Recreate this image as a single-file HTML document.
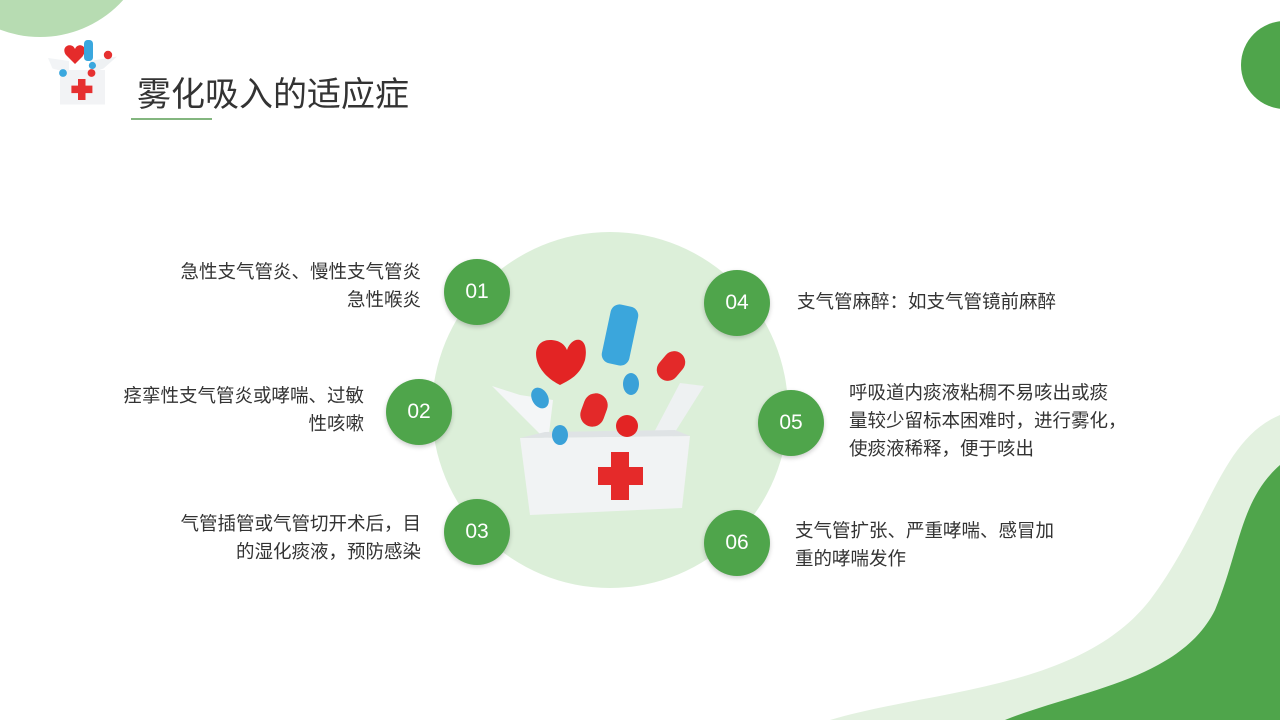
<!DOCTYPE html>
<html><head><meta charset="utf-8"><style>
body{margin:0;width:1280px;height:720px;position:relative;overflow:hidden;background:#fff;font-family:"Liberation Sans","Noto Sans CJK SC",sans-serif;color:#333}
.a{position:absolute}
.n{position:absolute;width:66px;height:66px;border-radius:50%;background:#4fa54b;color:#fff;font-size:21px;line-height:66px;text-align:center;box-shadow:0 2px 5px rgba(0,0,0,.2)}
.t{position:absolute;font-size:18.5px;line-height:28px;white-space:nowrap}
.r{text-align:right}
</style></head><body>
<svg class="a" style="left:0;top:0" width="1280" height="720">
<circle cx="40" cy="-75" r="112" fill="#b7dcb2"/>
<circle cx="1285" cy="65" r="44" fill="#4fa54b"/>
<path d="M830 720 C930 690 1080 690 1150 600 C1210 520 1220 440 1280 415 L1280 720Z" fill="#e3f1e0"/>
<path d="M1005 720 C1080 690 1180 680 1215 610 C1240 550 1240 500 1280 465 L1280 720Z" fill="#4fa54b"/>
<circle cx="610" cy="410" r="178" fill="#dcefd9"/>
<line x1="131" y1="119" x2="212" y2="119" stroke="#5a9e55" stroke-width="1.5"/>
<g transform="translate(48,40) scale(0.3)">
<polygon points="15,95 70,110 70,70 0,60" fill="#f2f4f6"/>
<polygon points="185,95 140,110 140,70 230,55" fill="#eef1f3"/>
<rect x="40" y="100" width="150" height="115" fill="#f2f3f5"/>
<rect x="100" y="130" width="25" height="70" fill="#e63030"/><rect x="78" y="152" width="70" height="25" fill="#e63030"/>
<path d="M60 50 C40 20 80 5 90 30 C100 5 140 20 115 55 L90 80Z" fill="#e52b2b"/>
<rect x="120" y="0" width="30" height="70" rx="12" fill="#3aa7de"/>
<circle cx="200" cy="50" r="14" fill="#e63030"/><circle cx="50" cy="110" r="13" fill="#3aa7de"/><circle cx="145" cy="110" r="13" fill="#e63030"/><circle cx="148" cy="85" r="12" fill="#3aa7de"/>
</g>
<g>
<polygon points="492,386 548,442 553,400 520,395" fill="#f4f6f7"/>
<polygon points="704,386 670,440 650,440 680,383" fill="#eef1f2"/>
<polygon points="520,438 690,436 682,508 530,515" fill="#f1f3f4"/>
<polygon points="545,432 675,430 690,436 520,438" fill="#dfe3e5"/>
<rect x="611" y="452" width="18" height="48" fill="#e52a2a"/><rect x="598" y="467" width="45" height="18" fill="#e52a2a"/>
<path d="M560 385 C530 370 530 340 550 340 C560 340 565 345 567 350 C572 335 590 335 585 360 C580 375 570 380 560 385Z" fill="#e32424"/>
<rect x="606" y="305" width="28" height="60" rx="9" fill="#3ba6dc" transform="rotate(12 620 335)"/>
<ellipse cx="631" cy="384" rx="8" ry="11" fill="#3aa1d8"/>
<ellipse cx="540" cy="398" rx="8" ry="11" fill="#3aa1d8" transform="rotate(-30 540 398)"/>
<ellipse cx="560" cy="435" rx="8" ry="10" fill="#3aa1d8"/>
<rect x="582" y="393" width="24" height="34" rx="12" fill="#e32929" transform="rotate(20 594 410)"/>
<rect x="660" y="350" width="22" height="32" rx="11" fill="#e32929" transform="rotate(40 671 366)"/>
<circle cx="627" cy="426" r="11" fill="#e32424"/>
</g>
</svg>
<div class="a" style="left:137px;top:67px;font-size:34px;color:#333;white-space:nowrap">雾化吸入的适应症</div>
<div class="n" style="left:444px;top:259px">01</div>
<div class="n" style="left:386px;top:379px">02</div>
<div class="n" style="left:444px;top:499px">03</div>
<div class="n" style="left:704px;top:270px">04</div>
<div class="n" style="left:758px;top:390px">05</div>
<div class="n" style="left:704px;top:510px">06</div>
<div class="t r" style="right:859px;top:258px">急性支气管炎、慢性支气管炎<br>急性喉炎</div>
<div class="t r" style="right:916px;top:382px">痉挛性支气管炎或哮喘、过敏<br>性咳嗽</div>
<div class="t r" style="right:859px;top:510px">气管插管或气管切开术后，目<br>的湿化痰液，预防感染</div>
<div class="t" style="left:797px;top:288px">支气管麻醉：如支气管镜前麻醉</div>
<div class="t" style="left:849px;top:379px">呼吸道内痰液粘稠不易咳出或痰<br>量较少留标本困难时，进行雾化，<br>使痰液稀释，便于咳出</div>
<div class="t" style="left:795px;top:517px">支气管扩张、严重哮喘、感冒加<br>重的哮喘发作</div>
</body></html>
